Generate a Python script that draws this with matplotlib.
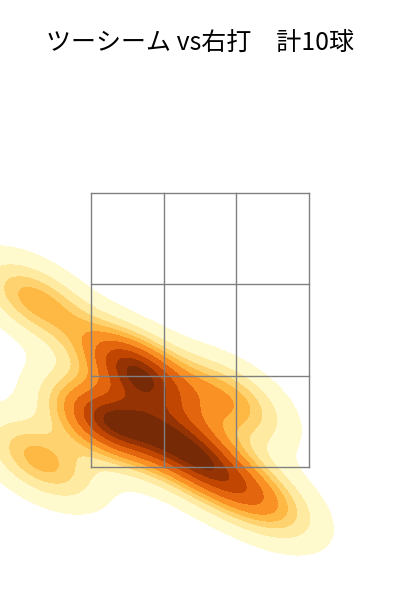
import numpy as np
import matplotlib
matplotlib.use('Agg')
import matplotlib.pyplot as plt
import seaborn as sns

plt.rcParams['font.family'] = ['Noto Sans CJK JP', 'DejaVu Sans']

# pitch locations (ft): horizontal / height
plate_x = [-0.548, -0.434, -0.800, -0.594, 0.472, -0.114, -1.257, -1.218, 0.229, 0.038]
plate_z = [2.266, 2.150, 1.858, 1.785, 1.259, 1.697, 2.719, 1.551, 1.989, 1.478]

zone_x = [-0.83, -0.83 / 3, 0.83 / 3, 0.83]
zone_z = [1.5, 1.5 + 2 / 3, 1.5 + 4 / 3, 3.5]

title = 'ツーシーム vs右打　計10球'

fig = plt.figure(figsize=(4, 6), dpi=100)
ax = fig.add_axes([0, 0, 1, 1])
sns.kdeplot(x=plate_x, y=plate_z, fill=True, cmap='YlOrBr', bw_adjust=0.75, ax=ax)

# strike zone 3x3
for x in zone_x:
    ax.plot([x, x], [zone_z[0], zone_z[-1]], color='gray', lw=1)
for z in zone_z:
    ax.plot([zone_x[0], zone_x[-1]], [z, z], color='gray', lw=1)

ax.set_xlim(-1.523, 1.523)
ax.set_ylim(0.529, 4.909)
ax.axis('off')
fig.text(0.5, 1 - 43 / 600, title, ha='center', va='center', fontsize=18)

fig.savefig('out.png', dpi=100)
